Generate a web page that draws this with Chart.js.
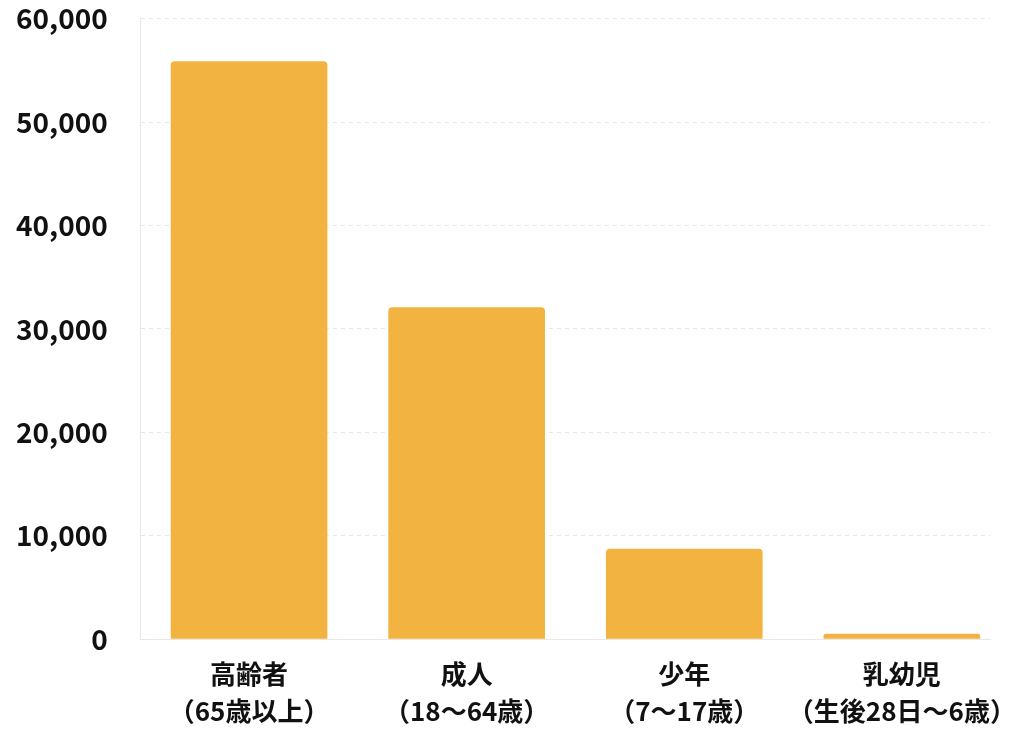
<!DOCTYPE html>
<html>
<head>
<meta charset="utf-8">
<script src="https://cdn.jsdelivr.net/npm/chart.js@4/dist/chart.umd.min.js"></script>
<style>
  html, body { margin: 0; padding: 0; background: #fff; }
  #wrap { width: 1024px; height: 734px; position: relative; }
</style>
</head>
<body>
<div id="wrap"><canvas id="myChart"></canvas></div>
<script>
// data
var categories = [
  ['高齢者', '（65歳以上）'],
  ['成人', '（18〜64歳）'],
  ['少年', '（7〜17歳）'],
  ['乳幼児', '（生後28日〜6歳）']
];
var values = [55900, 32100, 8750, 530];
var yTicks = [0, 10000, 20000, 30000, 40000, 50000, 60000];

var barColor = '#F3B340';
var fontFamily = '"Noto Sans CJK JP", "Noto Sans", sans-serif';

// bars sit on a numeric index axis (0..3) so the spacing can follow the reference
var points = values.map(function(v, i) { return { x: i, y: v }; });
var xTicks = categories.map(function(c, i) { return i; });

var ctx = document.getElementById('myChart');
var myChart = new Chart(ctx, {
  type: 'bar',
  data: {
    datasets: [{
      data: points,
      backgroundColor: barColor,
      borderRadius: 4,
      categoryPercentage: 0.8,
      barPercentage: 0.9
    }]
  },
  options: {
    responsive: true,
    maintainAspectRatio: false,
    animation: false,
    layout: { padding: { top: 0, right: 34, bottom: 0, left: 14 } },
    plugins: {
      legend: { display: false },
      tooltip: { enabled: false }
    },
    scales: {
      x: {
        type: 'linear',
        offset: false,
        min: -0.498,
        max: 3.405,
        afterBuildTicks: function(axis) {
          axis.ticks = xTicks.map(function(v) { return { value: v }; });
        },
        grid: { display: false, tickLength: 13 },
        border: { color: '#e8e8e8', width: 1 },
        ticks: {
          color: '#111',
          padding: 4,
          autoSkip: false,
          maxRotation: 0,
          minRotation: 0,
          font: { family: fontFamily, size: 26, weight: 'bold', lineHeight: 1.42 },
          callback: function(v) { return categories[v]; }
        }
      },
      y: {
        min: 0,
        max: 60000,
        afterBuildTicks: function(axis) {
          axis.ticks = yTicks.map(function(v) { return { value: v }; });
        },
        grid: {
          color: '#e8e8e8',
          drawTicks: true,
          tickLength: 31,
          tickColor: 'transparent'
        },
        border: { color: '#e8e8e8', dash: [4, 4], width: 1 },
        ticks: {
          color: '#111',
          padding: 2,
          font: { family: fontFamily, size: 28, weight: 'bold' },
          callback: function(v) { return v.toLocaleString('en-US'); }
        }
      }
    }
  }
});
</script>
</body>
</html>
